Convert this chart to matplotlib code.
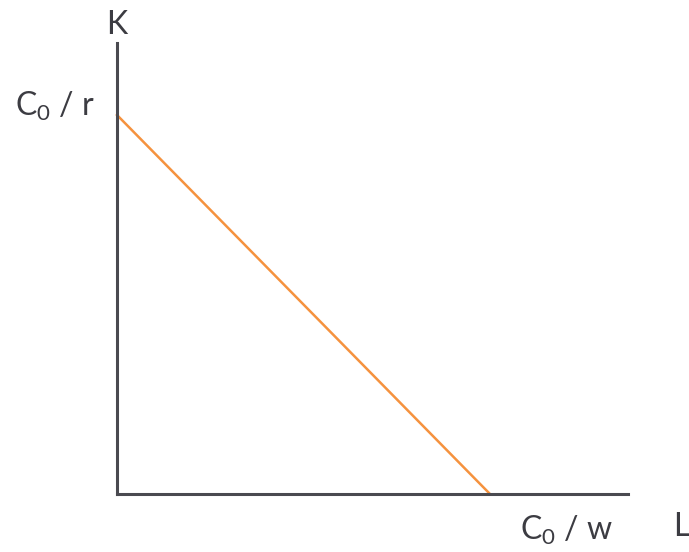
import matplotlib.pyplot as plt

# budget line: C0 / r on K axis, C0 / w on L axis
C0 = 100
w = 10
r = 10
line_L = [0, C0 / w]
line_K = [C0 / r, 0]
x_max = 13.7
y_max = 11.9

plt.rcParams['font.family'] = ['Lato', 'DejaVu Sans']
plt.rcParams['mathtext.fontset'] = 'custom'
plt.rcParams['mathtext.rm'] = 'Lato'
plt.rcParams['mathtext.it'] = 'Lato'

axis_col = '#4a4a50'
text_col = '#3c3c42'
orange = '#f5923e'

fig = plt.figure(figsize=(6.89, 5.52), dpi=100)
W, H = 689, 552
ax = fig.add_axes([117 / W, 1 - 494 / H, 511 / W, 451 / H])
ax.plot(line_L, line_K, color=orange, lw=1.8, clip_on=False, zorder=1)
ax.set_xlim(0, x_max)
ax.set_ylim(0, y_max)
for s in ['top', 'right']:
    ax.spines[s].set_visible(False)
for s in ['left', 'bottom']:
    ax.spines[s].set_color(axis_col)
    ax.spines[s].set_linewidth(2.2)
    ax.spines[s].set_zorder(2)
ax.set_xticks([])
ax.set_yticks([])
ax.patch.set_alpha(0)

def px(x, y):
    return x / W, 1 - y / H

fs = 23
fig.text(*px(117, 25), 'K', fontsize=fs, color=text_col, ha='center', va='center')
fig.text(*px(95, 106), r'$\mathregular{C_0}$ / r', fontsize=fs, color=text_col, ha='right', va='center')
fig.text(*px(566, 530), r'$\mathregular{C_0}$ / w', fontsize=fs, color=text_col, ha='center', va='center')
fig.text(*px(681, 527), 'L', fontsize=fs, color=text_col, ha='center', va='center')

fig.savefig('out.png', dpi=100)
